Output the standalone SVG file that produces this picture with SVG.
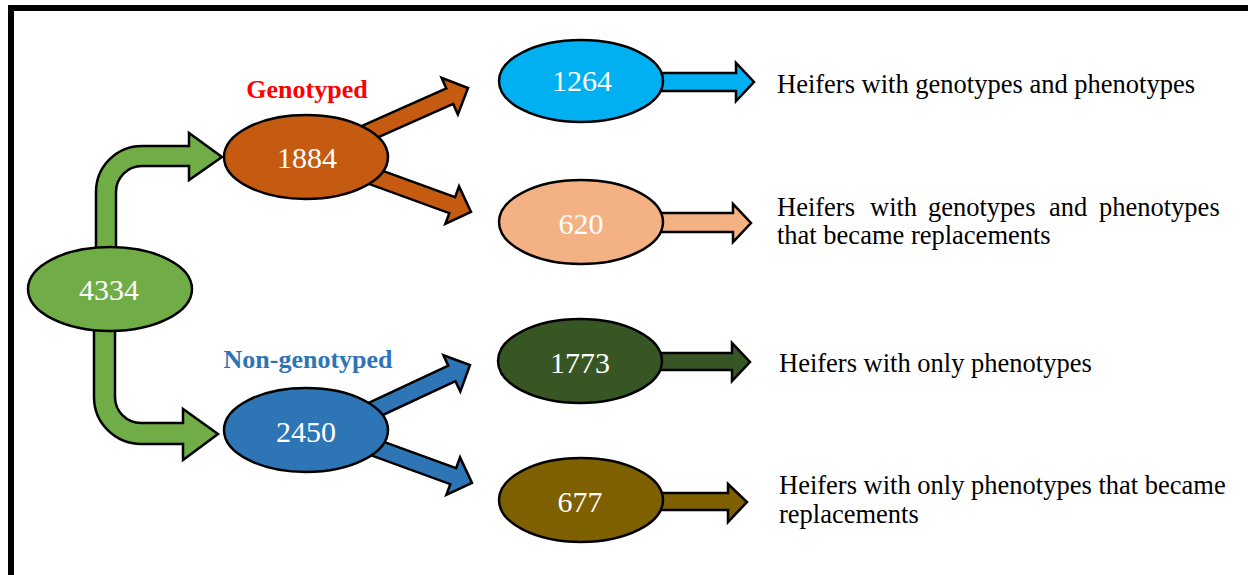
<svg xmlns="http://www.w3.org/2000/svg" width="1248" height="575" viewBox="0 0 1248 575">
  <style>
    .node { stroke: #000; stroke-width: 2.5; }
    .arrow { stroke: #000; stroke-width: 2.5; stroke-linejoin: miter; }
    .num { font-family: "Liberation Serif", "Times New Roman", serif; font-size: 30px; fill: #fff; text-anchor: middle; }
    .head { font-family: "Liberation Serif", "Times New Roman", serif; font-size: 26px; font-weight: bold; text-anchor: middle; }
    .desc { font-family: "Liberation Serif", "Times New Roman", serif; font-size: 26.5px; fill: #000; }
  </style>
  <defs>
    <!-- straight block arrow pointing along +x, tip at origin -->
    <polygon id="blockArrow" points="-135,-8.5 -20,-8.5 -20,-20 0,0 -20,20 -20,8.5 -135,8.5"/>
  </defs>

  <rect width="1248" height="575" fill="#fff"/>

  <!-- frame -->
  <g id="frame" stroke="#000" stroke-width="6" fill="none">
    <line x1="8" y1="8" x2="1248" y2="8"/>
    <line x1="11" y1="5" x2="11" y2="575"/>
  </g>

  <!-- connectors -->
  <g id="connectors">
    <!-- bent arrows from the total -->
    <path class="arrow" fill="#70AD47" d="M96,265 L96,192 A46,46 0 0 1 142,146 L189,146 L189,133 L222,157 L189,180 L189,166 L142,166 A26,26 0 0 0 116,192 L116,265 Z"/>
    <path class="arrow" fill="#70AD47" d="M94,315 L94,397 A47,47 0 0 0 141,444 L183,444 L183,460 L218,434 L183,409 L183,423 L141,423 A26,26 0 0 1 115,397 L115,315 Z"/>

    <!-- split arrows -->
    <use href="#blockArrow" class="arrow" fill="#C55A11" transform="translate(468,88) rotate(-24)"/>
    <use href="#blockArrow" class="arrow" fill="#C55A11" transform="translate(471,212) rotate(20)"/>
    <use href="#blockArrow" class="arrow" fill="#2E75B6" transform="translate(470,365) rotate(-25)"/>
    <use href="#blockArrow" class="arrow" fill="#2E75B6" transform="translate(472,483) rotate(20)"/>

    <!-- arrows to descriptions -->
    <polygon class="arrow" fill="#00B0F0" points="650,73 736,73 736,63 754,82 736,101 736,91 650,91"/>
    <polygon class="arrow" fill="#F4B183" points="650,213 733,213 733,204 751,223 733,242 733,232 650,232"/>
    <polygon class="arrow" fill="#375623" points="650,353 732,353 732,343 750,362 732,381 732,370 650,370"/>
    <polygon class="arrow" fill="#7F6000" points="650,493 728,493 728,484 747,502 728,522 728,510 650,510"/>
  </g>

  <!-- nodes -->
  <g id="node-total">
    <ellipse class="node" cx="110" cy="289" rx="82" ry="42" fill="#70AD47"/>
    <text class="num" x="109" y="300">4334</text>
  </g>

  <g id="node-genotyped">
    <text class="head" x="307" y="98" fill="#FF0000">Genotyped</text>
    <ellipse class="node" cx="306" cy="157" rx="82" ry="42" fill="#C55A11"/>
    <text class="num" x="307" y="168">1884</text>
  </g>

  <g id="node-nongenotyped">
    <text class="head" x="308" y="368" fill="#2E75B6">Non-genotyped</text>
    <ellipse class="node" cx="306" cy="430" rx="82" ry="42" fill="#2E75B6"/>
    <text class="num" x="306" y="442">2450</text>
  </g>

  <g id="node-1264">
    <ellipse class="node" cx="581" cy="81" rx="82" ry="41" fill="#00B0F0"/>
    <text class="num" x="582" y="91">1264</text>
  </g>

  <g id="node-620">
    <ellipse class="node" cx="581" cy="222" rx="82" ry="42" fill="#F4B183"/>
    <text class="num" x="581" y="234">620</text>
  </g>

  <g id="node-1773">
    <ellipse class="node" cx="580" cy="361" rx="82" ry="42" fill="#375623"/>
    <text class="num" x="580" y="373">1773</text>
  </g>

  <g id="node-677">
    <ellipse class="node" cx="581" cy="500" rx="82" ry="42" fill="#7F6000"/>
    <text class="num" x="580" y="512">677</text>
  </g>

  <!-- descriptions -->
  <g id="label-1264">
    <text class="desc" x="777" y="93">Heifers with genotypes and phenotypes</text>
  </g>
  <g id="label-620">
    <text class="desc" y="216"><tspan x="777">Heifers</tspan><tspan x="870">with</tspan><tspan x="928">genotypes</tspan><tspan x="1049">and</tspan><tspan x="1099">phenotypes</tspan></text>
    <text class="desc" x="777" y="244">that became replacements</text>
  </g>
  <g id="label-1773">
    <text class="desc" x="779" y="372">Heifers with only phenotypes</text>
  </g>
  <g id="label-677">
    <text class="desc" x="779" y="494">Heifers with only phenotypes that became</text>
    <text class="desc" x="779" y="523">replacements</text>
  </g>
</svg>
